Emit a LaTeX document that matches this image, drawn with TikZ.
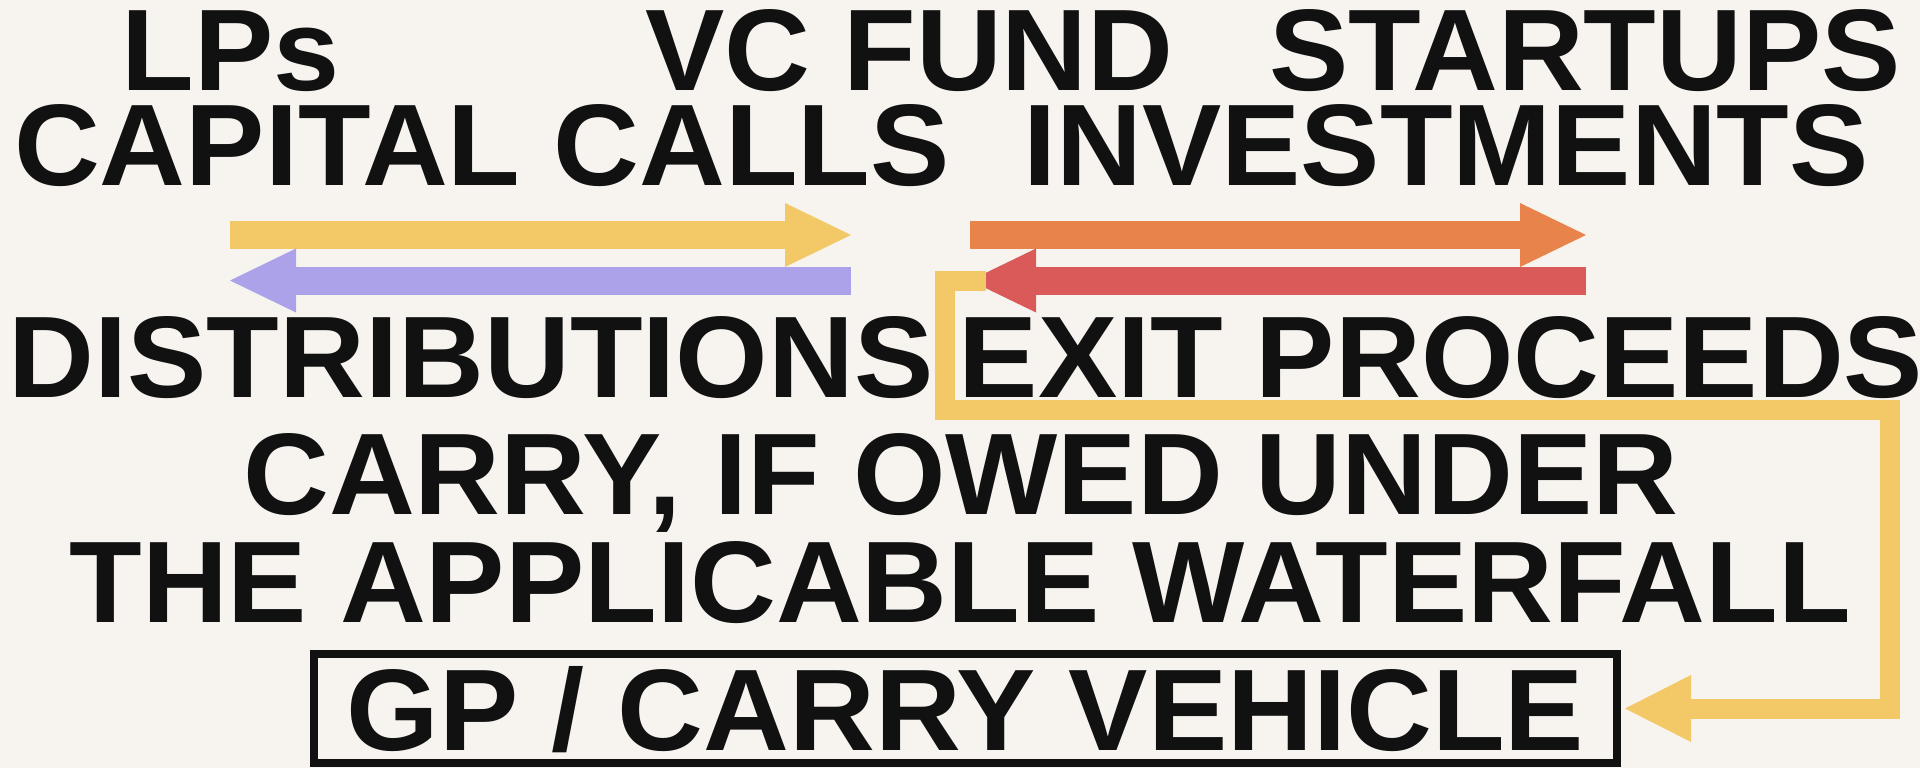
\documentclass[tikz,border=0pt]{standalone}
\usepackage{fontspec}
\setmainfont[FakeStretch=1.025]{Liberation Sans}
\usetikzlibrary{arrows.meta}
\definecolor{paper}{HTML}{F7F4F0}
\definecolor{ink}{HTML}{111111}
\definecolor{callyellow}{HTML}{F2C966}
\definecolor{distpurple}{HTML}{ACA2EA}
\definecolor{investorange}{HTML}{E8834B}
\definecolor{exitred}{HTML}{D95A59}
\begin{document}
\begin{tikzpicture}[x=1pt,y=-1pt,
    lbl/.style={text=ink,font=\fontsize{116}{116}\selectfont\bfseries,inner sep=0pt,anchor=base},
    flow/.style={line width=28pt,-{Triangle[length=66pt,width=64pt,line width=0pt]}},
    carryline/.style={draw=callyellow,line width=20pt,miter limit=10,
        -{Triangle[length=66pt,width=67pt,line width=0pt]}}]
    \fill[paper] (0,0) rectangle (1920,768);
    \useasboundingbox (0,0) rectangle (1920,768);
    % parties
    \node[lbl] (lps) at (230.5,91) {LPs};
    \node[lbl] (fund) at (909.5,91) {VC FUND};
    \node[lbl] (startups) at (1585,91) {STARTUPS};
    % flows
    \node[lbl] (calls) at (482,185.7) {CAPITAL CALLS};
    \node[lbl] (invest) at (1446,185.7) {INVESTMENTS};
    \node[lbl] (dist) at (471,397) {DISTRIBUTIONS};
    \node[lbl] (exit) at (1441,397.5) {EXIT PROCEEDS};
    \node[lbl] (carryA) at (961,514) {CARRY, IF OWED UNDER};
    \node[lbl] (carryB) at (960,622) {THE APPLICABLE WATERFALL};
    \node[lbl,anchor=center,draw=ink,line width=8pt,text height=83pt,text depth=0pt,
        minimum width=1303pt,minimum height=109pt] (gp) at (965.5,708.5) {GP / CARRY VEHICLE};
    % arrow ends
    \coordinate (callsL) at (230,235);
    \coordinate (callsR) at (851,235);
    \coordinate (distR) at (851,280.5);
    \coordinate (distL) at (230,280.5);
    \coordinate (investL) at (970,235);
    \coordinate (investR) at (1586,235);
    \coordinate (exitR) at (1586,280.5);
    \coordinate (exitL) at (970,280.5);
    \coordinate (carryS) at (986,280.5);
    \draw[flow,callyellow] (callsL) -- (callsR);
    \draw[flow,distpurple] (distR) -- (distL);
    \draw[flow,investorange] (investL) -- (investR);
    \draw[flow,exitred] (exitR) -- (exitL);
    % carry back to the GP
    \draw[carryline] (carryS) -- (945,280.5) -- (945,410) -- (1890,410) -- (1890,708.5)
        -- ([xshift=4pt]gp.east);
\end{tikzpicture}
\end{document}
